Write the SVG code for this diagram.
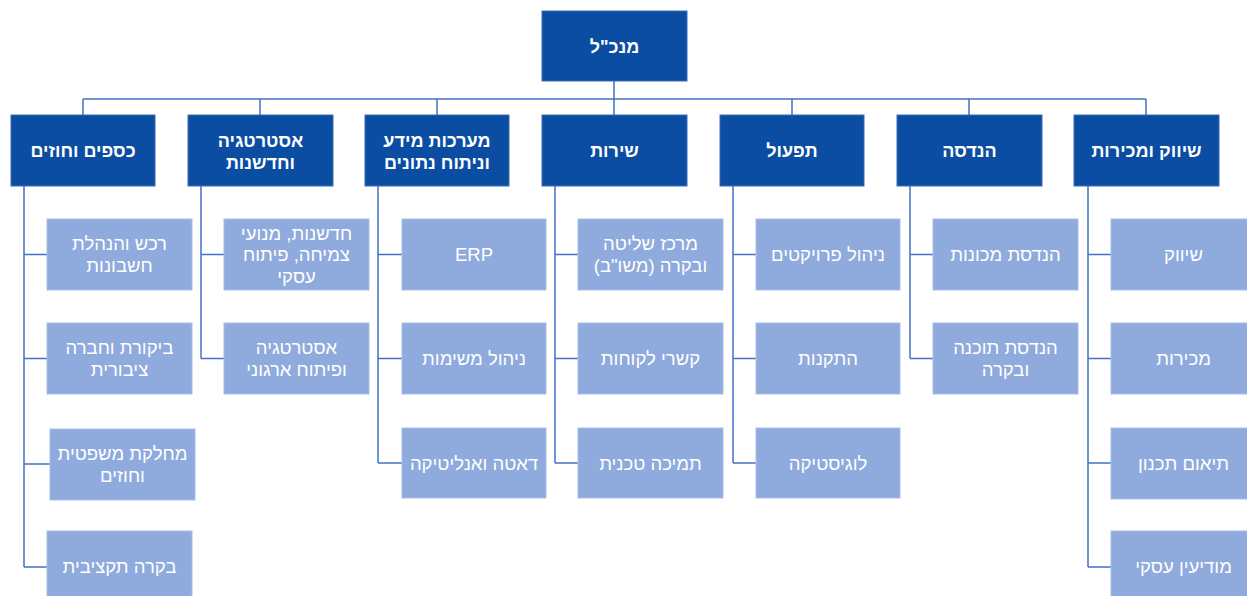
<svg xmlns="http://www.w3.org/2000/svg" width="1247" height="596" viewBox="0 0 1247 596">
<style>
.top{fill:#0A4DA2;stroke:#3E6DB5;stroke-width:1}
.sub{fill:#8FAADC;stroke:#A9BEE6;stroke-width:1}
.t{fill:#FFFFFF;font-family:"Liberation Sans","DejaVu Sans",sans-serif;font-size:18.5px;text-anchor:middle;direction:rtl}
.tb{font-weight:bold;font-size:18px}
.c{fill:none;stroke:#4472C4;stroke-width:1.5}
</style>
<rect width="1247" height="596" fill="#FFFFFF"/>
<g id="connectors">
<path class="c" d="M614 81V99M83 99H1146M83 99V115M260 99V115M437 99V115M614 99V115M792 99V115M969 99V115M1146 99V115"/>
<path class="c" d="M24 186V567M24 254.5H47M24 358.5H47M24 464H50M24 567H47"/>
<path class="c" d="M201 186V358.5M201 254.5H224M201 358.5H224"/>
<path class="c" d="M378 186V463M378 254.5H402M378 358.5H402M378 463H402"/>
<path class="c" d="M555 186V463M555 254.5H578M555 358.5H578M555 463H578"/>
<path class="c" d="M733 186V463M733 254.5H756M733 358.5H756M733 463H756"/>
<path class="c" d="M910 186V358.5M910 254.5H933M910 358.5H933"/>
<path class="c" d="M1088 186V567M1088 254.5H1111M1088 358.5H1111M1088 463H1111M1088 567H1111"/>
</g>
<g id="ceo"><rect class="top" x="542" y="11" width="145" height="70"/><text class="t tb" x="614.5" y="52.5">מנכ"ל</text></g>
<g id="finance"><rect class="top" x="11" y="115" width="144" height="71"/><text class="t tb" x="83" y="157">כספים וחוזים</text></g>
<g id="strategy"><rect class="top" x="188" y="115" width="145" height="71"/><text class="t tb" x="260.5" y="147">אסטרטגיה</text><text class="t tb" x="260.5" y="168.5">וחדשנות</text></g>
<g id="is"><rect class="top" x="365" y="115" width="144" height="71"/><text class="t tb" x="437" y="147">מערכות מידע</text><text class="t tb" x="437" y="168.5">וניתוח נתונים</text></g>
<g id="service"><rect class="top" x="542" y="115" width="145" height="71"/><text class="t tb" x="614.5" y="157">שירות</text></g>
<g id="operations"><rect class="top" x="720" y="115" width="144" height="71"/><text class="t tb" x="792" y="157">תפעול</text></g>
<g id="engineering"><rect class="top" x="897" y="115" width="145" height="71"/><text class="t tb" x="969.5" y="157">הנדסה</text></g>
<g id="marketing"><rect class="top" x="1074" y="115" width="145" height="71"/><text class="t tb" x="1146.5" y="157">שיווק ומכירות</text></g>

<g id="fin1"><rect class="sub" x="47" y="219" width="145" height="71"/><text class="t" x="119.5" y="250">רכש והנהלת</text><text class="t" x="119.5" y="271.5">חשבונות</text></g>
<g id="fin2"><rect class="sub" x="47" y="323" width="145" height="71"/><text class="t" x="119.5" y="354">ביקורת וחברה</text><text class="t" x="119.5" y="375.5">ציבורית</text></g>
<g id="fin3"><rect class="sub" x="50" y="429" width="145" height="71"/><text class="t" x="122.5" y="460">מחלקת משפטית</text><text class="t" x="122.5" y="481.5">וחוזים</text></g>
<g id="fin4"><rect class="sub" x="47" y="531" width="145" height="71"/><text class="t" x="119.5" y="573">בקרה תקציבית</text></g>

<g id="str1"><rect class="sub" x="224" y="219" width="145" height="71"/><text class="t" x="296.5" y="239.5">חדשנות, מנועי</text><text class="t" x="296.5" y="261">צמיחה, פיתוח</text><text class="t" x="296.5" y="282.5">עסקי</text></g>
<g id="str2"><rect class="sub" x="224" y="323" width="145" height="71"/><text class="t" x="296.5" y="354">אסטרטגיה</text><text class="t" x="296.5" y="375.5">ופיתוח ארגוני</text></g>

<g id="is1"><rect class="sub" x="402" y="219" width="144" height="71"/><text class="t" x="474" y="261">ERP</text></g>
<g id="is2"><rect class="sub" x="402" y="323" width="144" height="71"/><text class="t" x="474" y="365">ניהול משימות</text></g>
<g id="is3"><rect class="sub" x="402" y="428" width="144" height="70"/><text class="t" x="474" y="469.5">דאטה ואנליטיקה</text></g>

<g id="srv1"><rect class="sub" x="578" y="219" width="145" height="71"/><text class="t" x="650.5" y="250">מרכז שליטה</text><text class="t" x="650.5" y="271.5">ובקרה (משו"ב)</text></g>
<g id="srv2"><rect class="sub" x="578" y="323" width="145" height="71"/><text class="t" x="650.5" y="365">קשרי לקוחות</text></g>
<g id="srv3"><rect class="sub" x="578" y="428" width="145" height="70"/><text class="t" x="650.5" y="469.5">תמיכה טכנית</text></g>

<g id="op1"><rect class="sub" x="756" y="219" width="144" height="71"/><text class="t" x="828" y="261">ניהול פרויקטים</text></g>
<g id="op2"><rect class="sub" x="756" y="323" width="144" height="71"/><text class="t" x="828" y="365">התקנות</text></g>
<g id="op3"><rect class="sub" x="756" y="428" width="144" height="70"/><text class="t" x="828" y="469.5">לוגיסטיקה</text></g>

<g id="eng1"><rect class="sub" x="933" y="219" width="145" height="71"/><text class="t" x="1005.5" y="261">הנדסת מכונות</text></g>
<g id="eng2"><rect class="sub" x="933" y="323" width="145" height="71"/><text class="t" x="1005.5" y="354">הנדסת תוכנה</text><text class="t" x="1005.5" y="375.5">ובקרה</text></g>

<g id="mk1"><rect class="sub" x="1111" y="219" width="145" height="71"/><text class="t" x="1183.5" y="261">שיווק</text></g>
<g id="mk2"><rect class="sub" x="1111" y="323" width="145" height="71"/><text class="t" x="1183.5" y="365">מכירות</text></g>
<g id="mk3"><rect class="sub" x="1111" y="428" width="145" height="71"/><text class="t" x="1183.5" y="469.5">תיאום תכנון</text></g>
<g id="mk4"><rect class="sub" x="1111" y="531" width="145" height="71"/><text class="t" x="1183.5" y="573">מודיעין עסקי</text></g>
</svg>
